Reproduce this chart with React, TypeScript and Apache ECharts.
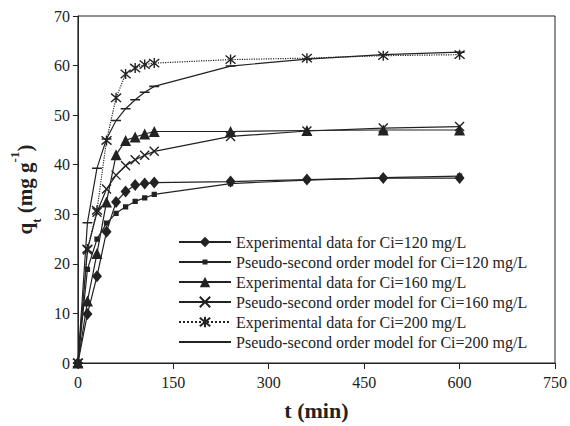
import React, { useEffect, useRef } from "react";
import * as echarts from "echarts";

const times = [0, 15, 30, 45, 60, 75, 90, 105, 120, 240, 360, 480, 600];
const exp120 = [0, 9.9, 17.5, 26.5, 32.5, 34.6, 35.9, 36.2, 36.4, 36.6, 37.0, 37.3, 37.3];
const model120 = [0, 18.9, 25.0, 28.2, 30.2, 31.5, 32.6, 33.3, 34.0, 36.2, 36.9, 37.4, 37.7];
const exp160 = [0, 12.5, 22.1, 32.5, 42.0, 44.9, 45.6, 46.2, 46.7, 46.7, 46.9, 47.0, 47.0];
const model160 = [0, 22.8, 30.4, 35.1, 37.9, 39.8, 41.0, 41.9, 42.7, 45.7, 46.8, 47.4, 47.7];
const exp200 = [0, 23.0, 30.8, 44.9, 53.5, 58.3, 59.5, 60.2, 60.5, 61.2, 61.5, 62.0, 62.2];
const model200 = [0, 28.3, 39.3, 45.2, 48.9, 51.3, 53.1, 54.6, 55.8, 59.9, 61.3, 62.2, 62.7];

const seriesNames = [
  "Experimental data for Ci=120 mg/L",
  "Pseudo-second order model for Ci=120 mg/L",
  "Experimental data for Ci=160 mg/L",
  "Pseudo-second order model for Ci=160 mg/L",
  "Experimental data for Ci=200 mg/L",
  "Pseudo-second order model for Ci=200 mg/L",
];

const FONT = "'Liberation Serif', 'Times New Roman', serif";
const INK = "#222";

function pairs(vals: number[]) {
  return times.map((t, i) => [t, vals[i]]);
}

export default function App() {
  const ref = useRef<HTMLDivElement>(null);
  useEffect(() => {
    if (!ref.current) return;
    const chart = echarts.init(ref.current, undefined, { renderer: "svg" });
    const crossPath = "path://M0,0L10,10M10,0L0,10";
    const starPath = "path://M0,0L10,10M10,0L0,10M5,-1L5,11";
    // small shapes padded inside an invisible 10x10 box so the legend icon stays small
    const squarePath = "path://M0,0L0.01,0M10,10L10.01,10M2.6,2.6L7.4,2.6L7.4,7.4L2.6,7.4Z";
    const dashPath = "path://M0,0L0.01,0M10,10L10.01,10M0.5,4.3L9.5,4.3L9.5,5.7L0.5,5.7Z";
    const mk = (
      name: string,
      vals: number[],
      symbol: string,
      size: number | number[],
      lineType: string,
      stroke: boolean
    ) => ({
      name,
      type: "line",
      data: pairs(vals),
      symbol,
      symbolSize: size,
      showSymbol: true,
      smooth: false,
      lineStyle: { color: INK, width: 1.2, type: lineType },
      itemStyle: {
        color: stroke ? "rgba(0,0,0,0)" : INK,
        borderColor: INK,
        borderWidth: stroke ? 1.4 : 0,
      },
      z: 2,
    });
    chart.setOption({
      animation: false,
      backgroundColor: "#fff",
      grid: {
        left: 76,
        right: 13,
        top: 16,
        bottom: 60,
        show: true,
        borderColor: INK,
        borderWidth: 1,
      },
      legend: {
        orient: "vertical",
        left: 178,
        top: 234,
        itemWidth: 52,
        itemHeight: 13,
        itemGap: 4,
        padding: 0,
        data: seriesNames,
        textStyle: { fontFamily: FONT, fontSize: 16, color: INK, lineHeight: 16 },
      },
      xAxis: {
        type: "value",
        min: 0,
        max: 750,
        interval: 150,
        name: "t (min)",
        nameLocation: "middle",
        nameGap: 36,
        nameTextStyle: { fontFamily: FONT, fontSize: 22, fontWeight: "bold", color: INK },
        axisLine: { lineStyle: { color: INK, width: 1 } },
        axisTick: { show: true, inside: false, length: 6, lineStyle: { color: INK } },
        axisLabel: { fontFamily: FONT, fontSize: 16, color: INK, margin: 11 },
        splitLine: { show: false },
      },
      yAxis: {
        type: "value",
        min: 0,
        max: 70,
        interval: 10,
        name: "{b|q}{s|t}{b| (mg g}{p|-1}{b|)}",
        nameLocation: "middle",
        nameGap: 38,
        nameRotate: 90,
        nameTextStyle: {
          fontFamily: FONT,
          color: INK,
          rich: {
            b: { fontFamily: FONT, fontSize: 21, fontWeight: "bold", color: INK, verticalAlign: "middle", lineHeight: 24 },
            s: { fontFamily: FONT, fontSize: 13, fontWeight: "bold", color: INK, verticalAlign: "bottom", lineHeight: 24, padding: [0, 0, -6, 0] },
            p: { fontFamily: FONT, fontSize: 13, fontWeight: "bold", color: INK, verticalAlign: "top", lineHeight: 24, padding: [-5, 0, 0, 0] },
          },
        },
        axisLine: { show: true, lineStyle: { color: INK, width: 1 } },
        axisTick: { show: true, inside: false, length: 5, lineStyle: { color: INK } },
        axisLabel: { fontFamily: FONT, fontSize: 16, color: INK, margin: 8 },
        splitLine: { show: false },
      },
      series: [
        mk(seriesNames[0], exp120, "diamond", [10, 12], "solid", false),
        mk(seriesNames[1], model120, squarePath, 11, "solid", false),
        mk(seriesNames[2], exp160, "triangle", 11, "solid", false),
        mk(seriesNames[3], model160, crossPath, 9, "solid", true),
        mk(seriesNames[4], exp200, starPath, 10, "dotted", true),
        mk(seriesNames[5], model200, dashPath, 11, "solid", false),
      ],
    });
    return () => chart.dispose();
  }, []);
  return (
    <div
      ref={ref}
      style={{ position: "fixed", left: 0, top: 0, width: 570, height: 426, background: "#fff" }}
    />
  );
}
